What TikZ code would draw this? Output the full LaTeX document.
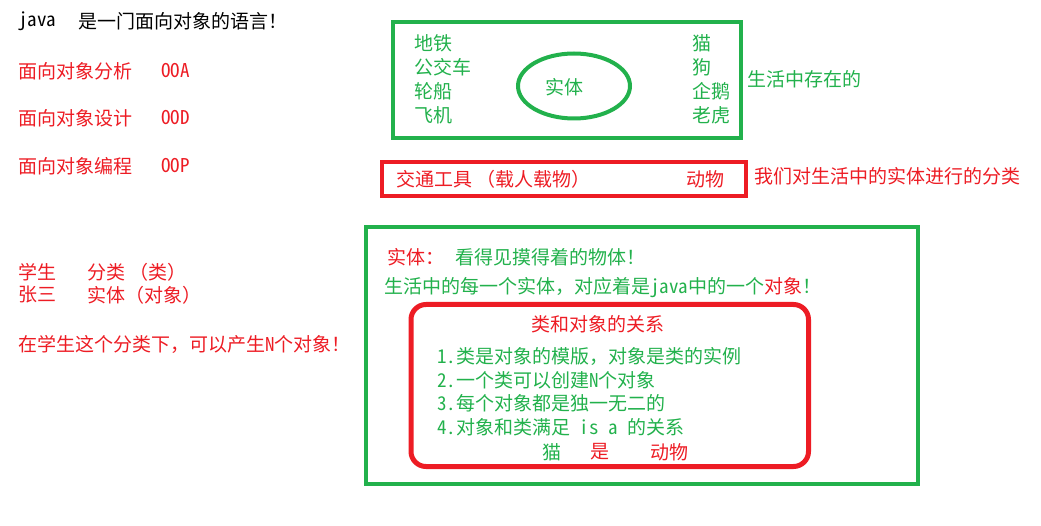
\documentclass[tikz,border=0pt]{standalone}
\usepackage{fontspec}
\setmainfont{Noto Sans CJK SC}
\newfontfamily\cjk{Noto Sans CJK SC}
\newfontfamily\half[RawFeature=+hwid]{Noto Sans CJK SC}
\usetikzlibrary{shapes.geometric}
\definecolor{Ink}{HTML}{000000}
\definecolor{PaintGreen}{HTML}{22B14C}
\definecolor{PaintRed}{HTML}{ED1C24}
\newcommand{\en}[1]{{\half #1}}
\tikzset{
  note/.style={anchor=west,inner sep=0pt,font=\cjk\fontsize{19}{23}\selectfont,text=Ink},
  notegreen/.style={note,text=PaintGreen},
  notered/.style={note,text=PaintRed},
  framegreen/.style={draw=PaintGreen,line width=4.5pt},
  framered/.style={draw=PaintRed,line width=4.5pt},
  entityring/.style={draw=PaintGreen,line width=4pt,ellipse,inner sep=0pt,minimum width=112pt,minimum height=65pt}
}
\begin{document}
\begin{tikzpicture}[x=1pt,y=-1pt]
\useasboundingbox (0,0) rectangle (1041,526);
% left column
\node[note] (java) at (18,21) {\en{java}};
\node[note] (javaline) at (78,21) {是一门面向对象的语言！};
\node[notered] (ooa) at (18,71) {面向对象分析};
\node[notered] (ooaen) at (161,71) {\en{OOA}};
\node[notered] (ood) at (18,118) {面向对象设计};
\node[notered] (ooden) at (161,118) {\en{OOD}};
\node[notered] (oop) at (18,166) {面向对象编程};
\node[notered] (oopen) at (161,166) {\en{OOP}};
\node[notered] (student) at (18,272) {学生};
\node[notered] (studentcls) at (87,272) {分类 （类）};
\node[notered] (zhang) at (18,295) {张三};
\node[notered] (zhangobj) at (87,295) {实体（对象）};
\node[notered] (many) at (18,344) {在学生这个分类下，可以产生\en{N}个对象！};
% things in life
\draw[framegreen] (393,22) rectangle (741,138);
\node[entityring] (entity) at (574,86) {};
\node[notegreen] (entitytext) at (545,87) {实体};
\node[notegreen] (subway) at (414,43) {地铁};
\node[notegreen] (bus) at (414,67) {公交车};
\node[notegreen] (ship) at (414,91) {轮船};
\node[notegreen] (plane) at (414,115) {飞机};
\node[notegreen] (cat) at (692,43) {猫};
\node[notegreen] (dog) at (692,67) {狗};
\node[notegreen] (penguin) at (692,91) {企鹅};
\node[notegreen] (tiger) at (692,115) {老虎};
\node[notegreen] (inlife) at (747,79) {生活中存在的};
% classes
\draw[framered] (382,162) rectangle (746,196);
\node[notered] (vehicle) at (396,179) {交通工具 （载人载物）};
\node[notered] (animal) at (686,179) {动物};
\node[notered] (classify) at (754,176) {我们对生活中的实体进行的分类};
% class vs object
\draw[framegreen] (366,227) rectangle (918,484);
\node[notered] (entitylbl) at (387,257) {实体：};
\node[notegreen] (entitydef) at (455,257) {看得见摸得着的物体！};
\node[notegreen] (eachone) at (384,288) {生活中的每一个实体，对应着是\en{java}中的一个{\color{PaintRed}对象}！};
\draw[framered,line width=5pt,rounded corners=15pt] (411,304.5) rectangle (808.5,466.5);
\node[notered] (relation) at (531,324) {类和对象的关系};
\node[notegreen] (rule1) at (437,356) {\en{1.}类是对象的模版，对象是类的实例};
\node[notegreen] (rule2) at (437,380) {\en{2.}一个类可以创建\en{N}个对象};
\node[notegreen] (rule3) at (437,403) {\en{3.}每个对象都是独一无二的};
\node[notegreen] (rule4) at (437,427) {\en{4.}对象和类满足\en{~is~a~}的关系};
\node[notegreen] (isacat) at (542,452) {猫};
\node[notered] (isais) at (590,452) {是};
\node[notered] (isaanimal) at (650,452) {动物};
\end{tikzpicture}
\end{document}
